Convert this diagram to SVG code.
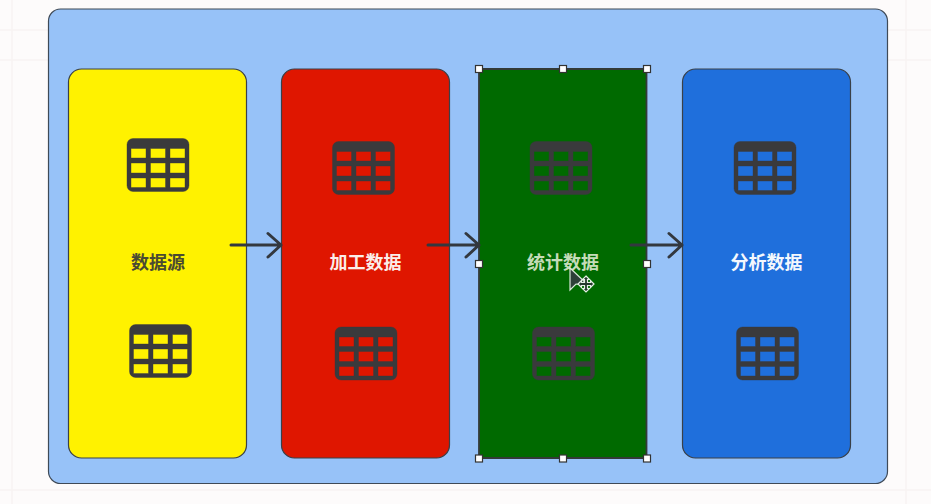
<svg xmlns="http://www.w3.org/2000/svg" xmlns:xlink="http://www.w3.org/1999/xlink" width="931" height="504" viewBox="0 0 931 504">
<style>
.card{stroke:#3a4048;stroke-width:1.2}
.lbl{font-family:"Noto Sans CJK SC","Noto Sans",sans-serif;font-size:18px;font-weight:700;text-anchor:middle}
.conn{fill:none;stroke:#33383f;stroke-width:3;stroke-linecap:round;stroke-linejoin:round}
.grid{stroke:#f8f4f3;stroke-width:1.5}
.h{fill:#fff;stroke:#333;stroke-width:1.2}
</style>
<defs>
<path id="tbl" fill="#3a3a3c" stroke="#3a3a3c" stroke-width="0.4" fill-rule="evenodd" d="M6 0H56a6 6 0 0 1 6 6V47a6 6 0 0 1-6 6H6a6 6 0 0 1-6-6V6a6 6 0 0 1 6-6Z M4 10v9.500h15V10Z M23.500 10v9.500h15V10Z M43 10v9.500h15V10Z M4 24.500v10h15v-10Z M23.500 24.500v10h15v-10Z M43 24.500v10h15v-10Z M4 39.500v9.500h15v-9.500Z M23.500 39.500v9.500h15v-9.500Z M43 39.500v9.500h15v-9.500Z"/>
</defs>
<rect width="931" height="504" fill="#fdfbfb"/>
<g id="grid">
<path class="grid" d="M12 0V504M906 0V504M0 30H48M888 30H931M0 60H48M888 60H931M0 490H931"/>
</g>
<g id="container"><rect x="48.500" y="9" width="839" height="474.500" rx="12" fill="#97c2f8" stroke="#3f4a57" stroke-width="1.200"/></g>
<g id="node-source">
<rect class="card" x="68.500" y="69" width="178" height="389" rx="13" fill="#fff200"/>
<use xlink:href="#tbl" x="127" y="138.500"/>
<use xlink:href="#tbl" x="129.500" y="324.500"/>
<text class="lbl" x="158" y="269" fill="#4a4a32">数据源</text>
</g>
<g id="node-process">
<rect class="card" x="281.500" y="69" width="168" height="389" rx="13" fill="#df1600"/>
<use xlink:href="#tbl" x="332.500" y="141.500"/>
<use xlink:href="#tbl" x="335" y="327"/>
<text class="lbl" x="365.500" y="269" fill="#fbeeea">加工数据</text>
</g>
<g id="node-stats">
<rect x="479" y="69" width="167.500" height="389" rx="3" fill="#006a00" stroke="#333a38" stroke-width="1.800"/>
<use xlink:href="#tbl" x="530" y="141.500"/>
<use xlink:href="#tbl" x="532.500" y="327"/>
<text class="lbl" x="563" y="269" fill="#c5dcb8">统计数据</text>
<rect class="h" x="475.500" y="65.500" width="7" height="7"/>
<rect class="h" x="559.500" y="65.500" width="7" height="7"/>
<rect class="h" x="643.500" y="65.500" width="7" height="7"/>
<rect class="h" x="475.500" y="260.500" width="7" height="7"/>
<rect class="h" x="643.500" y="260.500" width="7" height="7"/>
<rect class="h" x="475.500" y="455" width="7" height="7"/>
<rect class="h" x="559.500" y="455" width="7" height="7"/>
<rect class="h" x="643.500" y="455" width="7" height="7"/>
</g>
<g id="node-analysis">
<rect class="card" x="682.500" y="69" width="168" height="389" rx="13" fill="#1f6fdc"/>
<use xlink:href="#tbl" x="734" y="141.500"/>
<use xlink:href="#tbl" x="736.500" y="327"/>
<text class="lbl" x="766.500" y="269" fill="#f4f8fd">分析数据</text>
</g>
<g id="connectors">
<path class="conn" d="M231 245H281M268 233.500L281 245L268 257"/>
<path class="conn" d="M428 245H479M466 233.500L479 245L466 257"/>
<path class="conn" d="M631 245H682M669 233.500L682 245L669 257"/>
</g>
<g id="cursor">
<path d="M570 268L570 290L576 284L588 285Z" fill="#2d4038" stroke="#d8e8d8" stroke-width="1.200"/>
<path d="M586 276l3.500 3.500h-2v3h3v-2l3.500 3.500l-3.500 3.500v-2h-3v3h2l-3.500 3.500l-3.500-3.500h2v-3h-3v2l-3.500-3.500l3.500-3.500v2h3v-3h-2Z" fill="#24382c" stroke="#e4efe4" stroke-width="1.200"/>
</g>
</svg>
